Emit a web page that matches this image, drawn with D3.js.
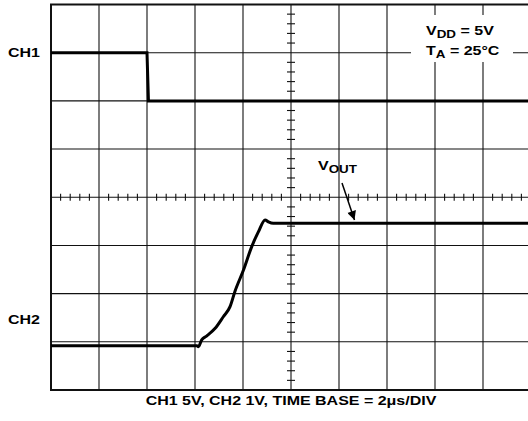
<!DOCTYPE html>
<html>
<head>
<meta charset="utf-8">
<script src="https://cdn.jsdelivr.net/npm/d3@7"></script>
<style>
  body { margin: 0; background: #fff; }
  svg { display: block; font-family: Arial, "Liberation Sans", sans-serif; font-weight: bold; }
</style>
</head>
<body>
<div id="chart"></div>
<script>
// scope screen: 10 horizontal divisions (2us/div), 8 vertical divisions
const xDivs = d3.range(0, 11);
const yDivs = d3.range(0, 9);

// CH1 trace [div, div]
const ch1 = [[0, 7.0], [2.0, 7.0], [2.03, 6.0], [10, 6.0]];

// CH2 trace (VOUT) [div, div]
const ch2 = [
  [0, 0.92], [3.04, 0.92], [3.07, 0.90], [3.14, 1.04], [3.24, 1.12],
  [3.42, 1.28], [3.59, 1.52], [3.73, 1.73], [3.83, 2.04], [4.01, 2.49],
  [4.18, 2.97], [4.32, 3.28], [4.46, 3.53], [4.53, 3.49], [4.63, 3.46],
  [10, 3.46]
];

const caption = 'CH1 5V, CH2 1V, TIME BASE = 2\u03BCs/DIV';

const width = 528, height = 421;
const x = d3.scaleLinear().domain([0, 10]).range([51, 531]);
const y = d3.scaleLinear().domain([0, 8]).range([390, 4.5]);
const stretch = 1.28; // the original lettering is wide

const svg = d3.select('#chart').append('svg')
  .attr('width', width)
  .attr('height', height);

const grid = svg.append('g').attr('stroke', '#111').attr('stroke-width', 1.1);

grid.selectAll('line.v').data(xDivs).enter().append('line')
  .attr('class', 'v')
  .attr('x1', d => x(d)).attr('x2', d => x(d))
  .attr('y1', y(0)).attr('y2', y(8));

grid.selectAll('line.h').data(yDivs).enter().append('line')
  .attr('class', 'h')
  .attr('x1', x(0)).attr('x2', x(10))
  .attr('y1', d => y(d)).attr('y2', d => y(d));

// outer frame a bit heavier
svg.append('rect')
  .attr('x', x(0)).attr('y', y(8))
  .attr('width', x(10) - x(0)).attr('height', y(0) - y(8))
  .attr('fill', 'none').attr('stroke', '#111').attr('stroke-width', 2);

// minor ticks on centre cross
const minorX = d3.range(0, 50).map(i => i / 5).filter(d => d % 1 !== 0);
const minorY = d3.range(0, 40).map(i => i / 5).filter(d => d % 1 !== 0);

grid.selectAll('line.mx').data(minorX).enter().append('line')
  .attr('class', 'mx')
  .attr('x1', d => x(d)).attr('x2', d => x(d))
  .attr('y1', y(4) - 3.5).attr('y2', y(4) + 3.5);

grid.selectAll('line.my').data(minorY).enter().append('line')
  .attr('class', 'my')
  .attr('x1', x(5) - 4).attr('x2', x(5) + 4)
  .attr('y1', d => y(d)).attr('y2', d => y(d));

// text helper: anchored at (px, py), stretched horizontally
function label(px, py, anchor) {
  return svg.append('g')
    .attr('transform', 'translate(' + px + ',' + py + ') scale(' + stretch + ',1)')
    .append('text')
    .attr('font-size', 12.5)
    .attr('text-anchor', anchor || 'start');
}

// conditions box
svg.append('rect')
  .attr('x', 411).attr('y', 15).attr('width', 102).attr('height', 47)
  .attr('fill', '#fff');

const cond1 = label(426, 35);
cond1.append('tspan').text('V');
cond1.append('tspan').attr('dy', 3).attr('font-size', 10.5).text('DD');
cond1.append('tspan').attr('dy', -3).text(' = 5V');

const cond2 = label(426, 55);
cond2.append('tspan').text('T');
cond2.append('tspan').attr('dy', 3).attr('font-size', 10.5).text('A');
cond2.append('tspan').attr('dy', -3).text(' = 25\u00B0C');

// traces
const line = d3.line().x(d => x(d[0])).y(d => y(d[1]));

svg.append('path').datum(ch1)
  .attr('d', line)
  .attr('fill', 'none').attr('stroke', '#000').attr('stroke-width', 3);

svg.append('path').datum(ch2)
  .attr('d', line.curve(d3.curveMonotoneX))
  .attr('fill', 'none').attr('stroke', '#000').attr('stroke-width', 3)
  .attr('stroke-linejoin', 'round');

// VOUT label and arrow
const vout = label(318, 170);
vout.append('tspan').text('V');
vout.append('tspan').attr('dy', 3).attr('font-size', 10.5).text('OUT');

svg.append('defs').append('marker')
  .attr('id', 'arrow')
  .attr('viewBox', '0 0 10 10')
  .attr('refX', 10).attr('refY', 5)
  .attr('markerWidth', 12).attr('markerHeight', 9)
  .attr('markerUnits', 'userSpaceOnUse')
  .attr('orient', 'auto')
  .append('path').attr('d', 'M0,0 L10,5 L0,10 Z').attr('fill', '#000');

svg.append('line')
  .attr('x1', 342).attr('y1', 183)
  .attr('x2', 354.5).attr('y2', 220)
  .attr('stroke', '#000').attr('stroke-width', 1.5)
  .attr('marker-end', 'url(#arrow)');

// channel labels
label(8, 57).text('CH1');
label(8, 324).text('CH2');

// caption
label(x(5), 405, 'middle').text(caption);
</script>
</body>
</html>
